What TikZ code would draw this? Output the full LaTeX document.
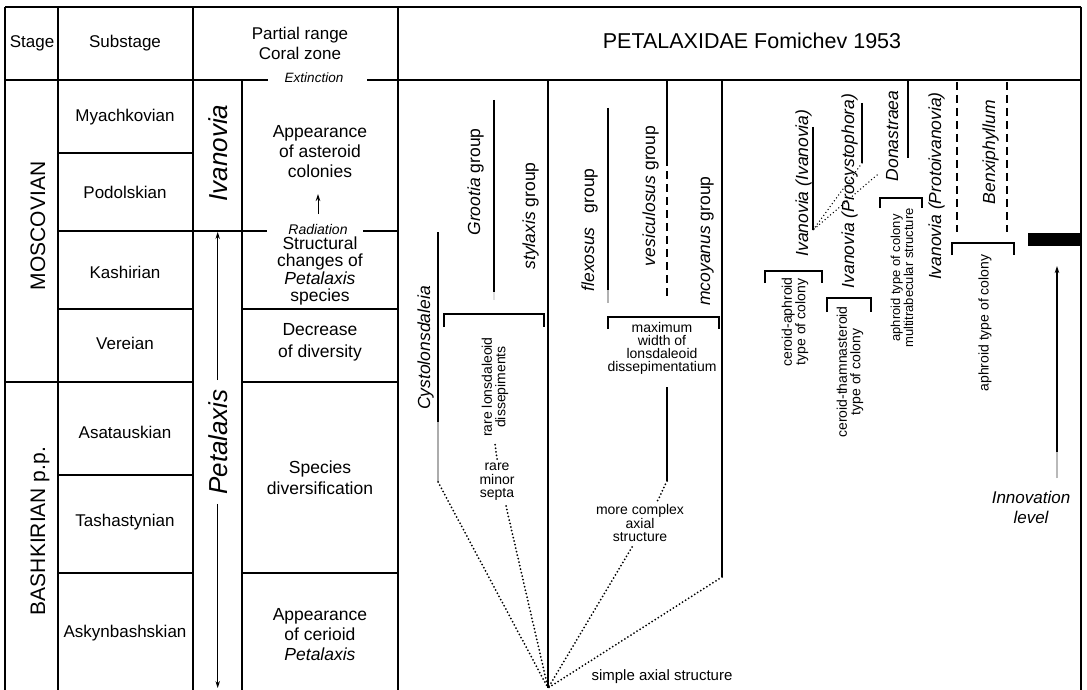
\documentclass[tikz,border=0pt]{standalone}
\usepackage{fontspec}
\setmainfont{Liberation Sans}
\usetikzlibrary{arrows.meta}
\begin{document}
\begin{tikzpicture}[x=1pt,y=-1pt,
  frame/.style={line width=1.3pt},
  rangebar/.style={line width=1.9pt},
  dashbar/.style={line width=1.9pt,dash pattern=on 8pt off 5pt},
  dotline/.style={line width=2pt,line cap=round,dash pattern=on 0pt off 3.6pt},
  bracket/.style={line width=1.4pt},
  txt/.style={inner sep=0pt,font=\fontsize{17}{20}\selectfont},
  coral/.style={inner sep=0pt,align=center},
  small/.style={inner sep=0pt,font=\fontsize{14}{13.5}\selectfont,align=center},
  taxon/.style={inner sep=0pt,rotate=90,anchor=base,font=\fontsize{17.5}{20}\selectfont},
  stagelab/.style={inner sep=0pt,rotate=90,anchor=base,font=\fontsize{21}{24}\selectfont},
  genus/.style={rotate=90,anchor=base,inner ysep=0pt,font=\fontsize{26}{30}\selectfont\itshape},
  arr/.style={line width=1pt,-{Stealth[length=7pt,width=4.5pt]}},
]
\fill[white] (0,0) rectangle (1087,690);
\path[use as bounding box] (0,0) rectangle (1087,690);

% ---------- frame ----------
\draw[frame] (5,7) -- (1081,7);
\draw[frame] (5,7) -- (5,690);
\draw[frame] (1081,7) -- (1081,690);
\draw[frame] (5,80) -- (268,80);
\draw[frame] (367,80) -- (1081,80);
\draw[frame] (58,7) -- (58,690);
\draw[frame] (193,7) -- (193,690);
\draw[frame] (242,80) -- (242,690);
\draw[frame] (398,7) -- (398,690);
% substage rows
\draw[frame] (58,153) -- (193,153);
\draw[frame] (58,231) -- (267,231);
\draw[frame] (363,231) -- (398,231);
\draw[frame] (58,309) -- (193,309);
\draw[frame] (242,309) -- (398,309);
\draw[frame] (5,382) -- (193,382);
\draw[frame] (242,382) -- (398,382);
\draw[frame] (58,475) -- (193,475);
\draw[frame] (58,573) -- (193,573);
\draw[frame] (242,573) -- (398,573);

% ---------- header ----------
\node[txt] (stage) at (32,43) {Stage};
\node[txt] (substage) at (125,43) {Substage};
\node[txt,align=center] (partial) at (300,43) {Partial range\\Coral zone};
\node[inner sep=0pt,font=\fontsize{21.5}{24}\selectfont] (family) at (752,41) {PETALAXIDAE Fomichev 1953};

% ---------- stages ----------
\node[stagelab] (mosc) at (45,226) {MOSCOVIAN};
\node[stagelab] (bash) at (45,531) {BASHKIRIAN p.p.};

% ---------- substages ----------
\node[txt] (myach) at (125,117) {Myachkovian};
\node[txt] (podol) at (125,192) {Podolskian};
\node[txt] (kash) at (125,272) {Kashirian};
\node[txt] (verei) at (125,343) {Vereian};
\node[txt] (asat) at (125,432) {Asatauskian};
\node[txt] (tash) at (125,522) {Tashastynian};
\node[txt] (askyn) at (125,633) {Askynbashskian};

% ---------- genus column ----------
\node[genus,inner xsep=0pt] (ivan) at (227,153) {Ivanovia};
\node[genus,inner xsep=9pt] (petal) at (227,442) {Petalaxis};
\coordinate (ptop) at (218,232);
\coordinate (pbot) at (218,688);
\draw[arr] (petal.east) -- (petal.east |- ptop);
\draw[arr] (petal.west) -- (petal.west |- pbot);

% ---------- coral zone ----------
\node[coral,font=\fontsize{17.5}{20}\selectfont] (asteroid) at (320,152) {Appearance\\of asteroid\\colonies};
\node[coral,font=\fontsize{17.5}{17.5}\selectfont] (struct) at (320,271) {Structural\\changes of\\\textit{Petalaxis}\\species};
\node[coral,font=\fontsize{17.5}{22}\selectfont] (decr) at (320,342) {Decrease\\of diversity};
\node[coral,font=\fontsize{17.5}{21}\selectfont] (divers) at (320,478) {Species\\diversification};
\node[coral,font=\fontsize{17.5}{20}\selectfont] (cerioid) at (320,635) {Appearance\\of cerioid\\\textit{Petalaxis}};
\node[inner sep=0pt,font=\fontsize{13.5}{15}\selectfont\itshape] (ext) at (314,78) {Extinction};
\node[inner sep=0pt,font=\fontsize{14}{15}\selectfont\itshape] (rad) at (318,229) {Radiation};
\coordinate (ra1) at (318,214);
\coordinate (ra2) at (318,194);
\draw[arr,line width=0.9pt] (ra1) -- (ra2);

% ---------- range bars ----------
\coordinate (origin) at (548,688);
\coordinate (mainTop) at (548,80);
\draw[rangebar] (mainTop) -- (origin);

\coordinate (cystoTop) at (438,232);
\coordinate (cystoMid) at (438,422);
\coordinate (cystoBot) at (438,482);
\draw[rangebar] (cystoTop) -- (cystoMid);
\draw[rangebar,gray!65] (cystoMid) -- (cystoBot);

\coordinate (grootTop) at (494,100);
\coordinate (grootBot) at (494,292);
\coordinate (grootFade) at (494,300);
\draw[rangebar] (grootTop) -- (grootBot);
\draw[rangebar,gray!25] (grootBot) -- (grootFade);

\coordinate (flexTop) at (608,108);
\coordinate (flexMid) at (608,290);
\coordinate (flexBot) at (608,303);
\draw[rangebar] (flexTop) -- (flexMid);
\draw[rangebar,gray!60] (flexMid) -- (flexBot);

\coordinate (vesTop) at (667,80);
\coordinate (vesMid) at (667,158);
\coordinate (vesBot) at (667,300);
\draw[rangebar] (vesTop) -- (vesMid);
\draw[dashbar] (vesMid) -- (vesBot);

\coordinate (maxTop) at (667,387);
\coordinate (maxBot) at (667,481);
\draw[rangebar] (maxTop) -- (maxBot);

\coordinate (mcTop) at (722,80);
\coordinate (mcBot) at (722,577);
\draw[rangebar] (mcTop) -- (mcBot);

\coordinate (ivTop) at (813,127);
\coordinate (ivBot) at (813,230);
\draw[rangebar] (ivTop) -- (ivBot);

\coordinate (prTop) at (862,103);
\coordinate (prBot) at (862,163);
\draw[rangebar] (prTop) -- (prBot);

\coordinate (doTop) at (908,80);
\coordinate (doBot) at (908,158);
\draw[rangebar] (doTop) -- (doBot);

\coordinate (ptTop) at (957,82);
\coordinate (ptBot) at (957,232);
\draw[dashbar] (ptTop) -- (ptBot);

\coordinate (bxTop) at (1007,82);
\coordinate (bxBot) at (1007,232);
\draw[dashbar] (bxTop) -- (bxBot);

\fill (1028,233) rectangle (1081,246);

% innovation arrow
\coordinate (inBot) at (1057,478);
\coordinate (inGray) at (1057,452);
\coordinate (inTop) at (1057,266);
\draw[line width=2.4pt,gray!55] (inBot) -- (inGray);
\draw[arr,line width=1.3pt] (inGray) -- (inTop);
\node[inner sep=0pt,align=center,font=\fontsize{17}{20}\selectfont\itshape] (innov) at (1031,507) {Innovation\\level};

% ---------- taxon labels ----------
\node[taxon] (cysto) at (430,348) {\itshape Cystolonsdaleia};
\node[taxon] (groot) at (480,182) {\textit{Grootia} group};
\node[taxon] (styl) at (535,216) {\textit{stylaxis} group};
\node[taxon] (flex) at (594,230) {\textit{flexosus}\hspace{14pt}group};
\node[taxon] (vesic) at (655,196) {\textit{vesiculosus} group};
\node[taxon] (mcoy) at (710,241) {\textit{mcoyanus} group};
\node[taxon] (ivivan) at (808,183) {\itshape Ivanovia (Ivanovia)};
\node[taxon] (procy) at (854,191) {\itshape Ivanovia (Procystophora)};
\node[taxon] (donas) at (898,136) {\itshape Donastraea};
\node[taxon] (proto) at (941,186) {\itshape Ivanovia (Protoivanovia)};
\node[taxon] (benx) at (995,152) {\itshape Benxiphyllum};

% ---------- brackets and character labels ----------
\draw[bracket] (444,327) -- (444,314) -- (544,314) -- (544,327);
\node[small,rotate=90] (rarelons) at (495,387) {rare lonsdaleoid\\dissepiments};
\draw[bracket] (608,329) -- (608,317) -- (719,317) -- (719,329);
\node[small,font=\fontsize{14}{13}\selectfont] (maxw) at (662,348) {maximum\\width of\\lonsdaleoid\\dissepimentatium};
\draw[bracket] (765,283) -- (765,271) -- (822,271) -- (822,283);
\node[small,rotate=90] (cerap) at (795,322) {ceroid-aphroid\\type of colony};
\draw[bracket] (827,312) -- (827,298) -- (871,298) -- (871,312);
\node[small,rotate=90] (certh) at (850,372) {ceroid-thamnasteroid\\type of colony};
\draw[bracket] (880,208) -- (880,198) -- (922,198) -- (922,208);
\node[small,rotate=90,font=\fontsize{13}{13}\selectfont] (aphmul) at (902,278) {aphroid type of colony\\multitrabecular structure};
\draw[bracket] (952,255) -- (952,243) -- (1014,243) -- (1014,255);
\node[small,rotate=90] (aphtype) at (985,323) {aphroid type of colony};

\node[small] (raresep) at (497,482) {rare\\minor\\septa};
\node[small,font=\fontsize{14}{12.5}\selectfont] (complex) at (640,523) {more complex\\axial\\structure};
\node[inner sep=0pt,font=\fontsize{15}{17}\selectfont] (simple) at (662,677) {simple axial structure};

% ---------- dotted phylogenetic links ----------
\coordinate (rsTop) at (497,459);
\coordinate (rlBot) at (495,444);
\coordinate (rsBot) at (506,506);
\coordinate (cxTop) at (657,502);
\coordinate (cxBot) at (632,547);
\coordinate (doLink) at (877,175);
\draw[dotline] (cystoBot) -- (origin);
\draw[dotline] (rsBot) -- (origin);
\draw[dotline] (rsTop) -- (rlBot);
\draw[dotline] (maxBot) -- (cxTop);
\draw[dotline] (cxBot) -- (origin);
\draw[dotline] (mcBot) -- (origin);
\draw[dotline,line width=1.5pt] (prBot) -- (ivBot);
\draw[dotline,line width=1.5pt] (doLink) -- (ivBot);
\end{tikzpicture}
\end{document}
